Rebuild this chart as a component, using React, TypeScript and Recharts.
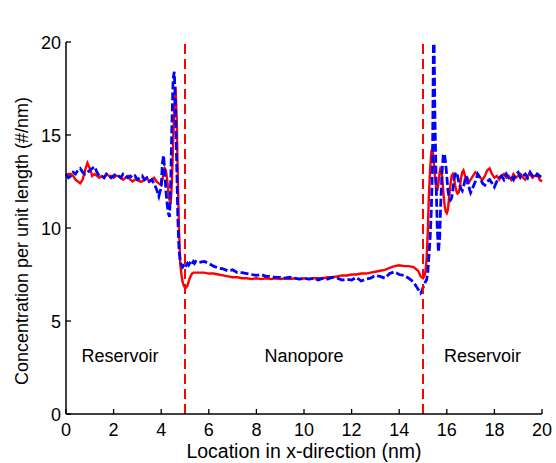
import React from 'react';
import { LineChart, Line, XAxis, YAxis, ReferenceLine, ReferenceDot } from 'recharts';

const FONT = '"Liberation Sans", Arial, Helvetica, sans-serif';

// x locations (nm)
const xA = [0.0, 0.1, 0.2, 0.3, 0.4, 0.5, 0.6, 0.7, 0.8, 0.9, 1.0, 1.1, 1.2, 1.3, 1.4, 1.5, 1.6, 1.7, 1.8, 1.9,
  2.0, 2.1, 2.2, 2.3, 2.4, 2.5, 2.6, 2.7, 2.8, 2.9, 3.0, 3.1, 3.2, 3.3, 3.4, 3.5, 3.6, 3.7, 3.8, 3.9];
const xB = [4.0, 4.05, 4.1, 4.15, 4.2, 4.25, 4.3, 4.35, 4.4, 4.45, 4.5, 4.55, 4.6, 4.65, 4.7, 4.75, 4.8, 4.85, 4.9, 4.95,
  5.0, 5.05, 5.1, 5.15, 5.2, 5.25, 5.3, 5.35, 5.4, 5.45, 5.5];
const xC = [5.6, 5.8, 6.0, 6.2, 6.4, 6.6, 6.8, 7.0, 7.2, 7.4, 7.6, 7.8, 8.0, 8.2, 8.4, 8.6, 8.8, 9.0, 9.2, 9.4,
  9.6, 9.8, 10.0, 10.2, 10.4, 10.6, 10.8, 11.0, 11.2, 11.4, 11.6, 11.8, 12.0, 12.2, 12.4, 12.6, 12.8, 13.0, 13.2, 13.4,
  13.6, 13.8, 14.0, 14.2, 14.4, 14.6, 14.8];
const xD = [14.9, 14.95, 15.0, 15.05, 15.1, 15.15, 15.2, 15.25, 15.3, 15.35, 15.4, 15.45, 15.5, 15.55, 15.6, 15.65,
  15.7, 15.75, 15.8, 15.85, 15.9, 15.95, 16.0, 16.05, 16.1, 16.15, 16.2, 16.25, 16.3, 16.35, 16.4, 16.45, 16.5, 16.55,
  16.6, 16.65, 16.7, 16.75, 16.8, 16.85, 16.9, 16.95, 17.0];
const xE = [17.1, 17.2, 17.3, 17.4, 17.5, 17.6, 17.7, 17.8, 17.9, 18.0, 18.1, 18.2, 18.3, 18.4, 18.5, 18.6, 18.7, 18.8,
  18.9, 19.0, 19.1, 19.2, 19.3, 19.4, 19.5, 19.6, 19.7, 19.8, 19.9, 20.0];

// red solid series
const redA = [12.8, 12.9, 12.9, 12.8, 12.6, 12.5, 12.4, 12.6, 13.1, 13.5, 13.2, 12.8, 12.9, 12.8, 12.7, 12.8, 12.7, 12.9, 12.8, 12.8,
  12.7, 12.8, 12.8, 12.7, 12.6, 12.7, 12.8, 12.6, 12.5, 12.6, 12.6, 12.5, 12.5, 12.6, 12.7, 12.5, 12.6, 12.7, 12.5, 12.4];
const redB = [12.3, 12.6, 12.9, 13.2, 13.1, 12.6, 12.0, 11.5, 11.3, 12.5, 14.5, 16.5, 17.6, 16.0, 12.5, 9.8, 8.1, 7.5, 7.1, 6.9,
  6.8, 6.8, 6.9, 7.1, 7.3, 7.45, 7.55, 7.6, 7.6, 7.6, 7.6];
const redC = [7.6, 7.6, 7.55, 7.55, 7.5, 7.45, 7.4, 7.35, 7.35, 7.3, 7.3, 7.25, 7.3, 7.25, 7.3, 7.25, 7.3, 7.25, 7.3, 7.25,
  7.3, 7.25, 7.3, 7.25, 7.3, 7.3, 7.3, 7.35, 7.35, 7.4, 7.45, 7.45, 7.5, 7.5, 7.55, 7.55, 7.6, 7.65, 7.7, 7.75,
  7.85, 7.95, 8.0, 7.95, 7.95, 7.9, 7.7];
const redD = [7.4, 7.35, 7.3, 7.4, 7.6, 8.3, 9.8, 11.8, 13.2, 14.1, 14.3, 13.6, 12.8, 12.2, 12.0, 12.4,
  13.0, 13.3, 12.8, 12.0, 11.3, 10.9, 10.8, 11.0, 11.7, 12.3, 12.8, 12.9, 12.7, 12.3, 12.0, 11.85, 11.9, 12.2,
  12.7, 13.0, 13.1, 12.9, 12.6, 12.4, 12.4, 12.5, 12.6];
const redE = [12.8, 13.0, 12.9, 12.7, 12.6, 12.8, 13.1, 13.2, 12.9, 12.7, 12.8, 12.6, 12.8, 12.9, 12.7, 12.8, 12.6, 12.9,
  12.7, 12.8, 12.9, 12.7, 12.6, 12.8, 12.9, 12.7, 12.8, 12.9, 12.6, 12.5];

// blue dashed series
const blueA = [12.9, 12.7, 12.8, 13.0, 12.9, 13.1, 13.2, 13.0, 12.9, 13.0, 13.1, 13.2, 13.3, 13.0, 12.8, 12.8, 12.7, 12.9, 12.8, 12.7,
  12.8, 12.9, 12.8, 12.7, 12.9, 12.8, 12.7, 12.8, 12.7, 12.8, 12.6, 12.7, 12.8, 12.6, 12.7, 12.5, 12.6, 12.4, 12.1, 11.7];
const blueB = [12.2, 13.5, 13.9, 13.0, 12.0, 11.3, 10.8, 10.6, 12.5, 15.5, 18.0, 18.4, 16.5, 13.5, 10.5, 8.8, 8.2, 8.0, 7.9, 8.0,
  8.1, 8.0, 8.1, 8.0, 8.1, 8.0, 8.1, 8.2, 8.1, 8.2, 8.15];
const blueC = [8.15, 8.2, 8.1, 7.95, 7.85, 7.8, 7.7, 7.75, 7.6, 7.6, 7.55, 7.5, 7.45, 7.5, 7.4, 7.4, 7.35, 7.35, 7.3, 7.35,
  7.3, 7.25, 7.3, 7.25, 7.3, 7.2, 7.3, 7.25, 7.35, 7.3, 7.2, 7.25, 7.2, 7.35, 7.15, 7.25, 7.3, 7.45, 7.4, 7.3,
  7.55, 7.65, 7.5, 7.45, 7.3, 7.1, 6.7];
const blueD = [6.5, 6.6, 6.8, 6.9, 7.1, 7.2, 7.6, 8.5, 9.5, 11.0, 13.5, 22.0, 16.0, 12.5, 10.0, 8.7,
  9.5, 11.5, 13.0, 13.9, 14.0, 13.5, 12.8, 12.0, 11.6, 11.5, 11.6, 12.0, 12.6, 12.9, 13.0, 12.8, 12.5, 12.3,
  12.1, 12.0, 12.2, 12.5, 12.8, 12.7, 12.4, 12.1, 11.9];
const blueE = [12.2, 12.5, 12.9, 12.7, 12.4, 12.3, 12.5, 12.6, 12.4, 12.2, 12.5, 12.7, 12.8, 12.6, 12.9, 12.7, 12.8, 12.6,
  12.9, 13.0, 12.7, 12.8, 12.9, 12.7, 13.0, 12.8, 12.7, 12.9, 12.8, 12.7];

const xTicks = [0, 2, 4, 6, 8, 10, 12, 14, 16, 18, 20];
const yTicks = [0, 5, 10, 15, 20];
const poreEdges = [5, 15];
const regionNames = ['Reservoir', 'Nanopore', 'Reservoir'];
const regionX = [2.27, 10, 17.5];
const regionY = [3.1, 3.1, 3.1];

const xs = [...xA, ...xB, ...xC, ...xD, ...xE];
const reds = [...redA, ...redB, ...redC, ...redD, ...redE];
const blues = [...blueA, ...blueB, ...blueC, ...blueD, ...blueE];
const data = xs.map((x, i) => ({ x, red: reds[i], blue: blues[i] }));

const TICK_LEN = 5;
const TXT = { fontFamily: FONT, fontSize: 18, fill: '#000' };

const BottomTick = (props: any) => {
  const { x, y, payload } = props;
  return (
    <g>
      <line x1={x} y1={y} x2={x} y2={y - TICK_LEN} stroke="#000" strokeWidth={1.3} />
      <text x={x} y={y + 21.5} textAnchor="middle" {...TXT}>{payload.value}</text>
    </g>
  );
};
const TopTick = (props: any) => {
  const { x, y } = props;
  return <line x1={x} y1={y} x2={x} y2={y + TICK_LEN} stroke="#000" strokeWidth={1.3} />;
};
const LeftTick = (props: any) => {
  const { x, y, payload } = props;
  return (
    <g>
      <line x1={x} y1={y} x2={x + TICK_LEN} y2={y} stroke="#000" strokeWidth={1.3} />
      <text x={x - 5} y={y + 6.5} textAnchor="end" {...TXT}>{payload.value}</text>
    </g>
  );
};
const RightTick = (props: any) => {
  const { x, y } = props;
  return <line x1={x} y1={y} x2={x - TICK_LEN} y2={y} stroke="#000" strokeWidth={1.3} />;
};

export default function App() {
  return (
    <div style={{ position: 'absolute', left: 0, top: 0, width: 556, height: 463, background: '#fff' }}>
      <LineChart width={556} height={463} data={data} margin={{ top: 42, right: 14, bottom: 19, left: 36 }}>
        <XAxis
          dataKey="x"
          type="number"
          domain={[0, 20]}
          ticks={xTicks}
          interval={0}
          height={30}
          tickSize={0}
          tickMargin={0}
          tickLine={false}
          tick={<BottomTick />}
          axisLine={{ stroke: '#000', strokeWidth: 1.5 }}
          label={{
            content: (p: any) => (
              <text x={p.viewBox.x + p.viewBox.width / 2} y={p.viewBox.y + 44} textAnchor="middle" fontFamily={FONT} fontSize={19.5} fill="#000">
                Location in x-direction (nm)
              </text>
            ),
          }}
        />
        <XAxis
          xAxisId="top"
          orientation="top"
          dataKey="x"
          type="number"
          domain={[0, 20]}
          ticks={xTicks}
          interval={0}
          height={0}
          tickSize={0}
          tickMargin={0}
          tickLine={false}
          tick={<TopTick />}
          axisLine={{ stroke: '#000', strokeWidth: 1.5 }}
          label={{
            content: (p: any) => (
              <text x={p.viewBox.x + p.viewBox.width / 2} y={p.viewBox.y - 17} textAnchor="middle" fontFamily={FONT} fontSize={19} fill="#000">
                Neutral pore
              </text>
            ),
          }}
        />
        <YAxis
          type="number"
          domain={[0, 20]}
          allowDataOverflow
          ticks={yTicks}
          interval={0}
          width={30}
          tickSize={0}
          tickMargin={0}
          tickLine={false}
          tick={<LeftTick />}
          axisLine={{ stroke: '#000', strokeWidth: 1.5 }}
          label={{
            content: (p: any) => {
              const cy = p.viewBox.y + p.viewBox.height / 2 + 13;
              return (
                <text x={28} y={cy} transform={`rotate(-90 28 ${cy})`} textAnchor="middle" fontFamily={FONT} fontSize={18} fill="#000">
                  Concentration per unit length (#/nm)
                </text>
              );
            },
          }}
        />
        <YAxis
          yAxisId="right"
          orientation="right"
          type="number"
          domain={[0, 20]}
          allowDataOverflow
          ticks={yTicks}
          interval={0}
          width={0}
          tickSize={0}
          tickMargin={0}
          tickLine={false}
          tick={<RightTick />}
          axisLine={{ stroke: '#000', strokeWidth: 1.5 }}
        />
        <Line type="linear" dataKey="red" stroke="#ff0000" strokeWidth={2.4} dot={false} isAnimationActive={false} />
        <Line type="linear" dataKey="blue" stroke="#0000ff" strokeWidth={2.8} strokeDasharray="8 3" dot={false} isAnimationActive={false} />
        {poreEdges.map((v) => (
          <ReferenceLine key={v} x={v} stroke="#ff0000" strokeWidth={2} strokeDasharray="10 5" />
        ))}
        {regionNames.map((name, i) => (
          <ReferenceDot
            key={i}
            x={regionX[i]}
            y={regionY[i]}
            r={0}
            fill="none"
            stroke="none"
            label={{
              content: (p: any) => (
                <text x={p.viewBox.x + p.viewBox.width / 2} y={p.viewBox.y + p.viewBox.height / 2 + 6} textAnchor="middle" fontFamily={FONT} fontSize={18} fill="#000">
                  {name}
                </text>
              ),
            }}
          />
        ))}
      </LineChart>
    </div>
  );
}
